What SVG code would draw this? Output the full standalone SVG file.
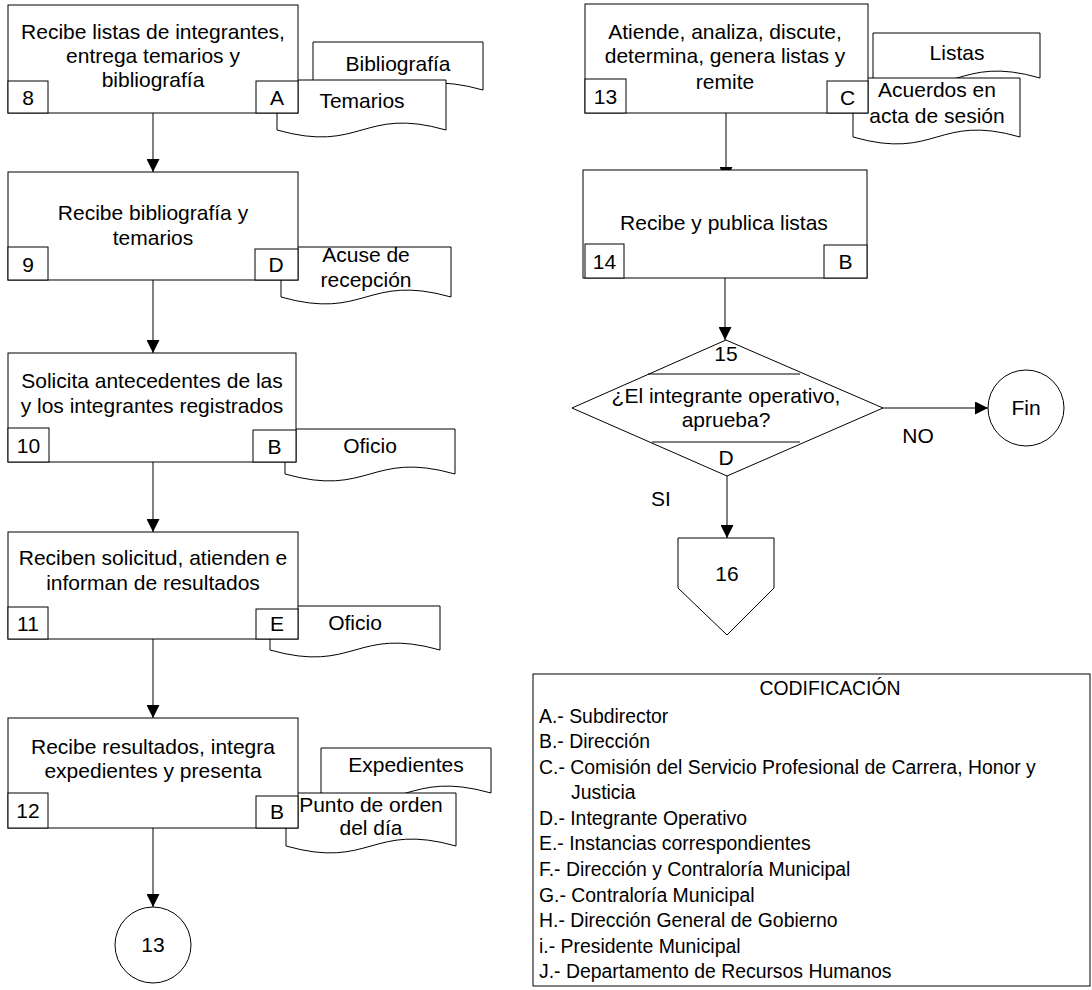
<svg xmlns="http://www.w3.org/2000/svg" width="1092" height="990" viewBox="0 0 1092 990">
<style>
text{font-family:"Liberation Sans",Arial,sans-serif;font-size:21px;fill:#000;text-anchor:middle}
.lg text{font-size:19.4px;text-anchor:start}
.shape{fill:#fff;stroke:#000;stroke-width:1}
.doc{fill:#fff;stroke:#000;stroke-width:1}
.con{fill:none;stroke:#000;stroke-width:1;marker-end:url(#ah)}
</style>
<defs>
<marker id="ah" markerUnits="userSpaceOnUse" markerWidth="13" markerHeight="13" refX="13" refY="6.5" orient="auto">
<path d="M0,0 L13,6.5 L0,13 z" fill="#000"/>
</marker>
</defs>
<rect width="1092" height="990" fill="#fff"/>

<g id="connectors">
<line class="con" x1="153" y1="113" x2="153" y2="172"/>
<line class="con" x1="153" y1="280" x2="153" y2="353"/>
<line class="con" x1="153" y1="462" x2="153" y2="532"/>
<line class="con" x1="153" y1="639" x2="153" y2="718"/>
<line class="con" x1="153" y1="828" x2="153" y2="907"/>
<line class="con" x1="726" y1="113" x2="726" y2="180"/>
<line class="con" x1="725" y1="278" x2="725" y2="340"/>
<line class="con" x1="883" y1="408" x2="988" y2="408"/>
<line class="con" x1="727" y1="476" x2="727" y2="538"/>
<text x="918" y="443">NO</text>
<text x="661" y="506">SI</text>
</g>

<g id="doc-bibliografia">
<path class="doc" d="M313,42 H483 V90 C398,114 398,66 313,90 Z" transform="matrix(-1 0 0 1 796 0)"/>
<text x="398" y="71">Bibliografía</text>
</g>
<g id="doc-temarios">
<path class="doc" d="M277,80 H446 V130 C361,154 361,106 277,130 Z" transform="matrix(-1 0 0 1 723 0)"/>
<text x="362" y="108">Temarios</text>
</g>
<g id="doc-acuse">
<path class="doc" d="M281,247 H451 V297 C366,321 366,273 281,297 Z" transform="matrix(-1 0 0 1 732 0)"/>
<text x="366" y="262">Acuse de</text>
<text x="366" y="287">recepción</text>
</g>
<g id="doc-oficio10">
<path class="doc" d="M285,429 H455 V474 C370,498 370,450 285,474 Z" transform="matrix(-1 0 0 1 740 0)"/>
<text x="370" y="453">Oficio</text>
</g>
<g id="doc-oficio11">
<path class="doc" d="M270,606 H440 V650 C355,674 355,626 270,650 Z" transform="matrix(-1 0 0 1 710 0)"/>
<text x="355" y="630">Oficio</text>
</g>
<g id="doc-expedientes">
<path class="doc" d="M321,748 H491 V793 C406,817 406,769 321,793 Z" transform="matrix(-1 0 0 1 812 0)"/>
<text x="406" y="772">Expedientes</text>
</g>
<g id="doc-punto">
<path class="doc" d="M286,793 H456 V846 C371,870 371,822 286,846 Z" transform="matrix(-1 0 0 1 742 0)"/>
<text x="371" y="812">Punto de orden</text>
<text x="371" y="835">del día</text>
</g>
<g id="doc-listas">
<path class="doc" d="M873,33 H1040 V78 C956,102 956,54 873,78 Z" transform="matrix(-1 0 0 1 1913 0)"/>
<text x="957" y="60">Listas</text>
</g>
<g id="doc-acuerdos">
<path class="doc" d="M853,78 H1020 V137 C936,161 936,113 853,137 Z" transform="matrix(-1 0 0 1 1873 0)"/>
<text x="937" y="97">Acuerdos en</text>
<text x="937" y="123">acta de sesión</text>
</g>

<g id="node-8">
<rect class="shape" x="8" y="5" width="290" height="108"/>
<text x="153" y="39">Recibe listas de integrantes,</text>
<text x="153" y="63">entrega temarios y</text>
<text x="153" y="87">bibliografía</text>
<rect class="shape" x="8" y="81" width="40" height="32"/>
<text x="28" y="105">8</text>
<rect class="shape" x="256" y="81" width="42" height="32"/>
<text x="277" y="105">A</text>
</g>
<g id="node-9">
<rect class="shape" x="8" y="172" width="290" height="108"/>
<text x="153" y="220">Recibe bibliografía y</text>
<text x="153" y="245">temarios</text>
<rect class="shape" x="8" y="247" width="40" height="33"/>
<text x="28" y="272">9</text>
<rect class="shape" x="255" y="249" width="43" height="31"/>
<text x="276" y="272">D</text>
</g>
<g id="node-10">
<rect class="shape" x="8" y="353" width="288" height="109"/>
<text x="152" y="388">Solicita antecedentes de las</text>
<text x="152" y="413">y los integrantes registrados</text>
<rect class="shape" x="8" y="428" width="41" height="34"/>
<text x="28.5" y="453">10</text>
<rect class="shape" x="253" y="430" width="43" height="32"/>
<text x="274.5" y="454">B</text>
</g>
<g id="node-11">
<rect class="shape" x="8" y="532" width="290" height="107"/>
<text x="153" y="565">Reciben solicitud, atienden e</text>
<text x="153" y="590">informan de resultados</text>
<rect class="shape" x="8" y="607" width="40" height="32"/>
<text x="28" y="631">11</text>
<rect class="shape" x="256" y="609" width="42" height="30"/>
<text x="277" y="631">E</text>
</g>
<g id="node-12">
<rect class="shape" x="8" y="718" width="290" height="110"/>
<text x="153" y="754">Recibe resultados, integra</text>
<text x="153" y="778">expedientes y presenta</text>
<rect class="shape" x="8" y="793" width="40" height="35"/>
<text x="28" y="818">12</text>
<rect class="shape" x="256" y="796" width="42" height="32"/>
<text x="277" y="819">B</text>
</g>
<g id="node-c13">
<circle class="shape" cx="153" cy="945" r="38"/>
<text x="153" y="952">13</text>
</g>

<g id="node-13">
<rect class="shape" x="585" y="4" width="283" height="109"/>
<text x="725" y="39">Atiende, analiza, discute,</text>
<text x="725" y="63">determina, genera listas y</text>
<text x="725" y="89">remite</text>
<rect class="shape" x="585" y="79" width="41" height="34"/>
<text x="605.5" y="104">13</text>
<rect class="shape" x="827" y="81" width="41" height="32"/>
<text x="847.5" y="105">C</text>
</g>
<g id="node-14">
<rect class="shape" x="583" y="170" width="284" height="108"/>
<text x="724" y="230">Recibe y publica listas</text>
<rect class="shape" x="585" y="244" width="39" height="34"/>
<text x="604.5" y="269">14</text>
<rect class="shape" x="824" y="245" width="43" height="33"/>
<text x="845.5" y="269">B</text>
</g>
<g id="node-15">
<polygon class="shape" points="726,340 883,408 727,476 572,408"/>
<line x1="648" y1="374" x2="800" y2="374" stroke="#000" stroke-width="1"/>
<line x1="652" y1="442" x2="800" y2="442" stroke="#000" stroke-width="1"/>
<text x="726" y="361">15</text>
<text x="726" y="403">¿El integrante operativo,</text>
<text x="726" y="427">aprueba?</text>
<text x="726" y="465">D</text>
</g>
<g id="node-fin">
<circle class="shape" cx="1026" cy="408" r="38"/>
<text x="1026" y="415">Fin</text>
</g>
<g id="node-16">
<polygon class="shape" points="678,538 774,538 774,588 727,635 678,588"/>
<text x="727" y="581">16</text>
</g>

<g id="legend" class="lg">
<rect class="shape" x="533" y="674" width="557" height="312"/>
<text x="830" y="695" style="text-anchor:middle">CODIFICACIÓN</text>
<text x="539" y="723">A.- Subdirector</text>
<text x="539" y="748">B.- Dirección</text>
<text x="539" y="774">C.- Comisión del Servicio Profesional de Carrera, Honor y</text>
<text x="571" y="799">Justicia</text>
<text x="539" y="825">D.- Integrante Operativo</text>
<text x="539" y="850">E.- Instancias correspondientes</text>
<text x="539" y="876">F.- Dirección y Contraloría Municipal</text>
<text x="539" y="902">G.- Contraloría Municipal</text>
<text x="539" y="927">H.- Dirección General de Gobierno</text>
<text x="539" y="953">i.- Presidente Municipal</text>
<text x="539" y="978">J.- Departamento de Recursos Humanos</text>
</g>
</svg>
